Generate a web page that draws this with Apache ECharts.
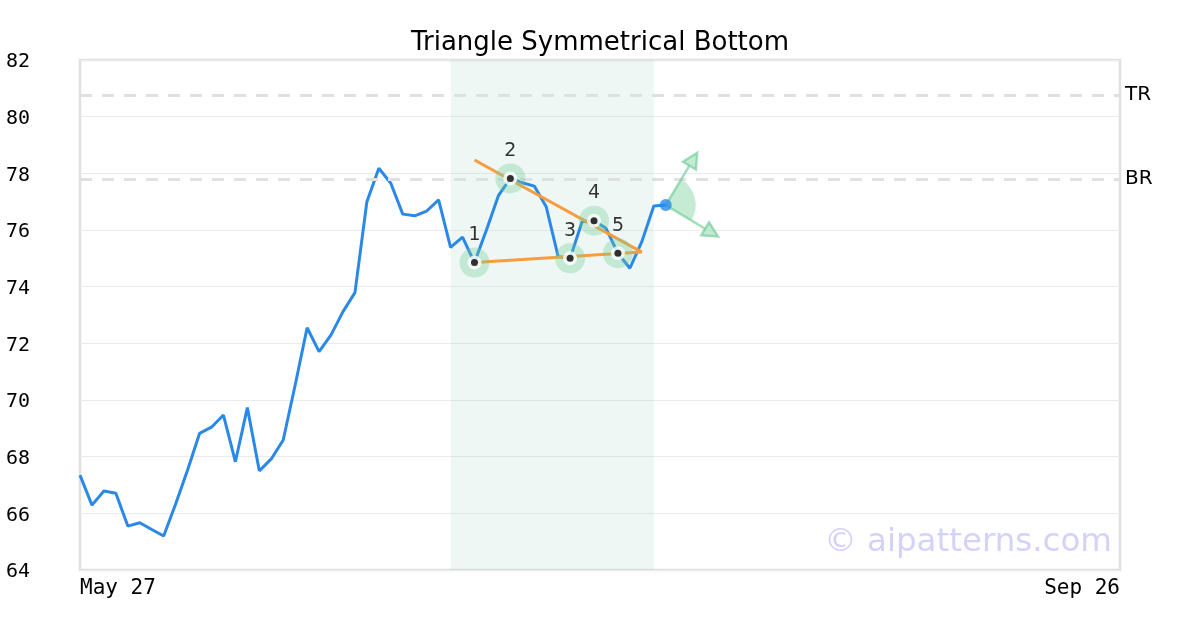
<!DOCTYPE html>
<html>
<head>
<meta charset="utf-8">
<script src="https://cdn.jsdelivr.net/npm/echarts@6/dist/echarts.min.js"></script>
<style>html,body{margin:0;padding:0;background:#fff;}#c{width:1200px;height:630px;}</style>
</head>
<body>
<div id="c"></div>
<script>
// ---- data ----
const xLabels = ['May 27', 'Sep 26'];
const totalSlots = 88; // trading-day slots on the axis
const prices = [67.35, 66.29, 66.79, 66.71, 65.55, 65.67, 65.43, 65.20, 66.33, 67.53,
  68.82, 69.04, 69.47, 67.82, 69.73, 67.50, 67.92, 68.59, 70.53, 72.55,
  71.71, 72.30, 73.12, 73.79, 77.00, 78.18, 77.65, 76.56, 76.50, 76.67,
  77.06, 75.39, 75.75, 74.85, 76.00, 77.21, 77.82, 77.67, 77.55, 76.82,
  75.06, 75.00, 76.29, 76.33, 76.06, 75.18, 74.65, 75.59, 76.85, 76.88];
const pivotIdx = [33, 36, 41, 43, 45];
const pivotLabels = ['1', '2', '3', '4', '5'];
const upperLine = [[33, 78.47], [47, 75.22]];
const lowerLine = [[33, 74.85], [47, 75.22]];
const levelNames = ['TR', 'BR'];
const levelValues = [80.76, 77.80];
const patternRange = [31, 48];
const yMin = 64, yMax = 82, yStep = 2;

// ---- build ----
const lineData = prices.map((v, i) => [i, v]);
const pivotData = pivotIdx.map((i, k) => ({ value: [i, prices[i]], name: pivotLabels[k] }));
const lastPoint = [prices.length - 1, prices[prices.length - 1]];

const green = 'rgba(110,205,150,';
const chart = echarts.init(document.getElementById('c'), null, { renderer: 'canvas' });
chart.setOption({
  animation: false,
  backgroundColor: '#fff',
  title: {
    text: 'Triangle Symmetrical Bottom', left: 'center', top: 25,
    textStyle: { fontFamily: 'DejaVu Sans', fontSize: 26, fontWeight: 'normal', color: '#000' }
  },
  graphic: [{
    type: 'text', right: 88, top: 526, z: 100,
    style: { text: '© aipatterns.com', fontFamily: 'DejaVu Sans', fontSize: 32.5, fill: '#d3d3fa' }
  }],
  grid: { left: 80, right: 80, top: 60, bottom: 60, show: true, borderColor: '#e0e0e0', borderWidth: 2.5, backgroundColor: 'transparent' },
  xAxis: {
    type: 'value', min: 0, max: totalSlots - 1, interval: totalSlots - 1,
    axisLine: { show: false }, axisTick: { show: false }, splitLine: { show: false },
    axisLabel: {
      fontFamily: 'DejaVu Sans Mono', fontSize: 21, color: '#000', margin: 8,
      alignMinLabel: 'left', alignMaxLabel: 'right',
      formatter: v => (v === 0 ? xLabels[0] : xLabels[1])
    }
  },
  yAxis: {
    type: 'value', min: yMin, max: yMax, interval: yStep,
    axisLine: { show: false }, axisTick: { show: false },
    splitLine: { lineStyle: { color: '#ebebeb', width: 1 } },
    axisLabel: { fontFamily: 'DejaVu Sans Mono', fontSize: 20, color: '#000', margin: 50, align: 'right', verticalAlign: 'top', lineHeight: 20, padding: [-8, 0, 0, 0] }
  },
  series: [
    {
      type: 'line', data: lineData, showSymbol: false, z: 3,
      lineStyle: { color: '#2a88e8', width: 3 }, itemStyle: { color: '#2a88e8' },
      markArea: {
        silent: true,
        itemStyle: { color: 'rgba(160,210,190,0.18)' },
        data: [[{ xAxis: patternRange[0] }, { xAxis: patternRange[1] }]]
      },
      markLine: {
        silent: true, symbol: 'none',
        lineStyle: { color: '#e0e0e0', width: 3, type: [12, 10] },
        label: { position: 'end', fontFamily: 'DejaVu Sans', fontSize: 20, color: '#000', distance: 5, formatter: p => p.name },
        data: levelValues.map((v, k) => ({ yAxis: v, name: levelNames[k] }))
      }
    },
    { type: 'line', data: upperLine, showSymbol: false, z: 4, lineStyle: { color: '#f89c3e', width: 3 } },
    { type: 'line', data: lowerLine, showSymbol: false, z: 4, lineStyle: { color: '#f89c3e', width: 3 } },
    {
      type: 'scatter', data: pivotData, symbolSize: 30, z: 5,
      itemStyle: { color: green + '0.42)' },
      label: { show: true, position: 'top', distance: 3, fontFamily: 'DejaVu Sans', fontSize: 19, color: '#000', textBorderWidth: 0, formatter: p => p.name }
    },
    {
      type: 'scatter', data: pivotData, symbolSize: 14, z: 6,
      itemStyle: { color: '#fff' }
    },
    {
      type: 'scatter', data: pivotData, symbolSize: 7, z: 7,
      itemStyle: { color: '#000' }
    },
    {
      type: 'custom', z: 7, data: [lastPoint],
      renderItem: function (params, api) {
        const c = api.coord([api.value(0), api.value(1)]);
        const len = 61, r = 30;
        const a1 = -59 * Math.PI / 180, a2 = 31 * Math.PI / 180;
        const children = [{
          type: 'sector',
          shape: { cx: c[0], cy: c[1], r0: 0, r: r, startAngle: a1, endAngle: a2, clockwise: true },
          style: { fill: green + '0.4)' }
        }];
        [a1, a2].forEach(a => {
          const ux = Math.cos(a), uy = Math.sin(a);
          const tip = [c[0] + ux * len, c[1] + uy * len];
          const base = [c[0] + ux * (len - 15), c[1] + uy * (len - 15)];
          const px = -uy * 7.5, py = ux * 7.5;
          children.push({
            type: 'line',
            shape: { x1: c[0], y1: c[1], x2: base[0], y2: base[1] },
            style: { stroke: green + '0.65)', lineWidth: 2.5 }
          });
          children.push({
            type: 'polygon',
            shape: { points: [tip, [base[0] + px, base[1] + py], [base[0] - px, base[1] - py]] },
            style: { fill: green + '0.4)', stroke: green + '0.65)', lineWidth: 2.5 }
          });
        });
        return { type: 'group', children: children };
      }
    },
    {
      type: 'scatter', data: [lastPoint], symbolSize: 12, z: 8,
      itemStyle: { color: '#2a88e8' }
    }
  ]
});
</script>
</body>
</html>
